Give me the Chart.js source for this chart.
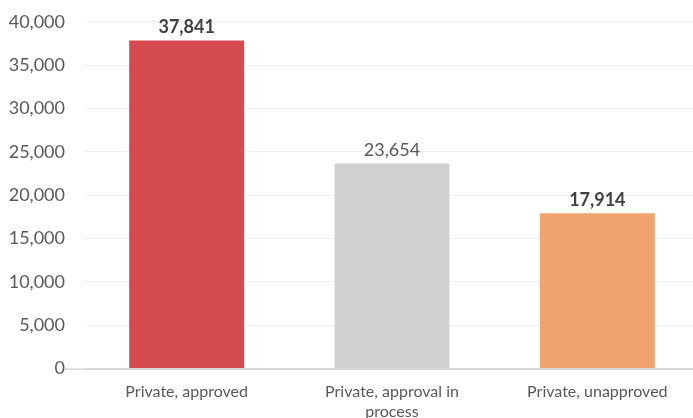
<!DOCTYPE html>
<html>
<head>
<meta charset="utf-8">
<script src="https://cdn.jsdelivr.net/npm/chart.js@4"></script>
<style>
  html, body { margin: 0; padding: 0; background: #fff; overflow: hidden; }
  #wrap { width: 700px; height: 435px; margin-top: -8px; }
</style>
</head>
<body>
<div id="wrap"><canvas id="bars"></canvas></div>
<script>
const categories = [['Private, approved'], ['Private, approval in', 'process'], ['Private, unapproved']];
const values = [37841, 23654, 17914];
const barColors = ['#d64b4f', '#d0d0d0', '#f0a36d'];
const labelBold = [true, false, true];
const yTicks = [0, 5000, 10000, 15000, 20000, 25000, 30000, 35000, 40000];

const FONT = 'Lato, "Noto Sans", sans-serif';

// values on top of the bars
const valueLabels = {
  id: 'valueLabels',
  afterDatasetsDraw(chart) {
    const ctx = chart.ctx;
    const meta = chart.getDatasetMeta(0);
    ctx.save();
    ctx.textAlign = 'center';
    ctx.textBaseline = 'bottom';
    meta.data.forEach((bar, i) => {
      ctx.font = (labelBold[i] ? 'bold ' : '') + '18px ' + FONT;
      ctx.fillStyle = labelBold[i] ? '#404040' : '#595959';
      ctx.fillText(values[i].toLocaleString('en-US'), bar.x, bar.y - 4);
    });
    ctx.restore();
  }
};

// baseline runs a little left of the plot
const baseLine = {
  id: 'baseLine',
  afterDatasetsDraw(chart) {
    const ctx = chart.ctx;
    const y = chart.scales.y.getPixelForValue(0);
    ctx.save();
    ctx.strokeStyle = '#bfbfbf';
    ctx.lineWidth = 1;
    ctx.beginPath();
    ctx.moveTo(64, y + 0.5);
    ctx.lineTo(chart.chartArea.right, y + 0.5);
    ctx.stroke();
    ctx.restore();
  }
};

new Chart(document.getElementById('bars').getContext('2d'), {
  type: 'bar',
  data: {
    labels: categories,
    datasets: [{
      data: values,
      backgroundColor: barColors,
      categoryPercentage: 1,
      barPercentage: 0.56
    }]
  },
  options: {
    responsive: true,
    maintainAspectRatio: false,
    animation: false,
    layout: { padding: { top: 6, right: 0, left: 0, bottom: 0 } },
    plugins: { legend: { display: false }, tooltip: { enabled: false } },
    scales: {
      x: {
        grid: { display: false },
        border: { display: false },
        ticks: { color: '#595959', font: { family: FONT, size: 16 }, padding: 6, maxRotation: 0 }
      },
      y: {
        min: 0,
        max: 40000,
        afterBuildTicks: axis => { axis.ticks = yTicks.map(v => ({ value: v })); },
        afterFit: axis => { axis.width = 84; },
        grid: { color: '#efefef', drawTicks: false },
        border: { display: false },
        ticks: {
          color: '#595959',
          font: { family: FONT, size: 18 },
          padding: 19,
          callback: v => v.toLocaleString('en-US')
        }
      }
    }
  },
  plugins: [valueLabels, baseLine]
});
</script>
</body>
</html>
